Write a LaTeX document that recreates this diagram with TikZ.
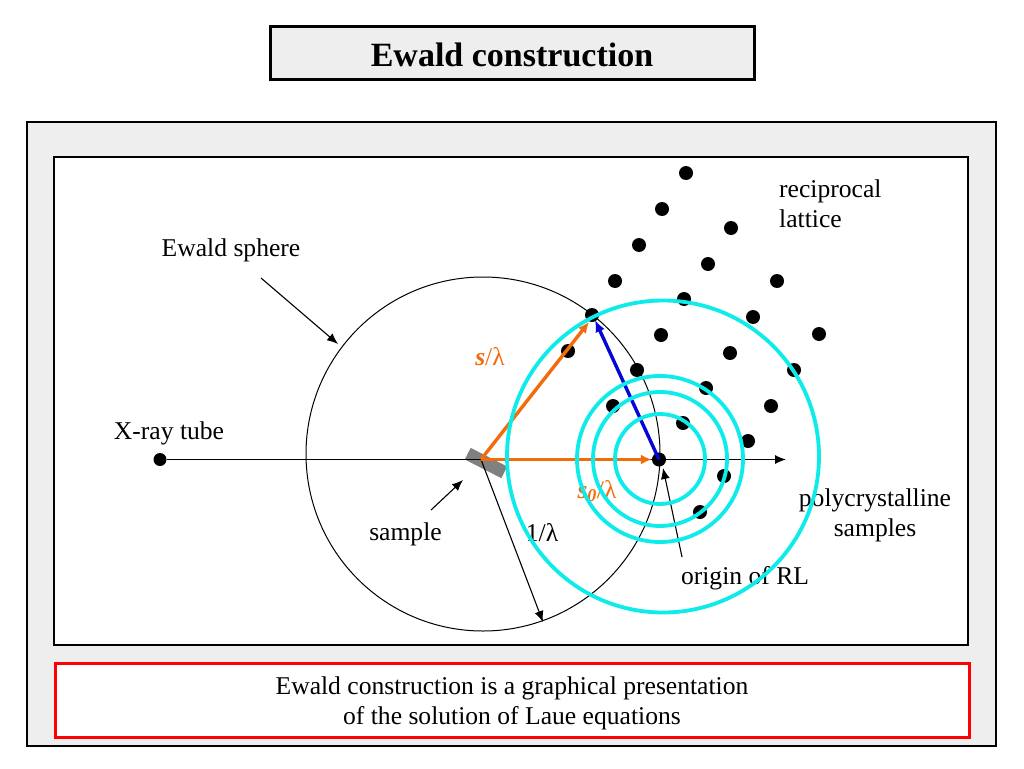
\documentclass[tikz,border=0pt]{standalone}
\usepackage{fontspec}
\usetikzlibrary{arrows.meta}
\setmainfont{Liberation Serif}
\definecolor{panelgray}{HTML}{EEEEEE}
\definecolor{beamorange}{HTML}{F26C0D}
\definecolor{ringcyan}{HTML}{0DEBEB}
\definecolor{vecblue}{HTML}{0505D8}
\tikzset{
  dot/.style={circle,fill=black,inner sep=0pt,minimum size=14pt},
  lbl/.style={font=\fontsize{25.6}{30}\selectfont,align=center,inner sep=0pt},
  veclbl/.style={lbl,text=beamorange},
  ring/.style={ringcyan,line width=3.8pt},
  pointer/.style={-{Latex[length=11pt,width=9pt]},line width=1.1pt},
  beam/.style={-{Latex[length=11pt,width=10pt]},beamorange,line width=3.4pt}
}
\begin{document}
\begin{tikzpicture}[x=1pt,y=-1pt]
    \useasboundingbox (0,0) rectangle (1024,768);

    % Define Coordinates
    \coordinate (O) at (659,459.5);   % origin of RL
    \coordinate (C) at (481,459.5);   % start of the vectors
    \coordinate (M) at (483,454);     % centre of the sphere
    \coordinate (E) at (786,459.5);   % end of the axis
    \coordinate (SphereTail) at (261,278);
    \coordinate (SphereTip) at (338,344);
    \coordinate (SampleTail) at (431,510);
    \coordinate (SampleTip) at (463,480);
    \coordinate (RadiusTip) at (543,622);
    \coordinate (OriginTail) at (682,557);
    \coordinate (OriginTip) at (663,468);
    \coordinate (STip) at (589,322);
    \coordinate (GTip) at (595,320);

    % 1. Draw the Panels
    \draw[line width=3pt,fill=panelgray] (270,27) rectangle (754,79);
    \draw[line width=2.5pt,fill=panelgray] (27,122) rectangle (996,746);
    \draw[line width=1.6pt,fill=white] (54,157) rectangle (968,645);
    \draw[red,line width=3pt,fill=white] (55,663) rectangle (969,737);
    \node[lbl,font=\fontsize{34}{42}\bfseries\selectfont] (title) at (512,54.5) {Ewald construction};
    \node[lbl] (note) at (512,703) {Ewald construction is a graphical presentation\\of the solution of Laue equations};

    % 2. Draw the Sphere and the Sample
    \draw[line width=1pt] (M) circle (177);
    \node[fill=black!50,rotate=-27,minimum width=41pt,minimum height=13pt,inner sep=0pt] (sample) at (486,463) {};

    % 3. Draw the Lattice
    \foreach \x/\y [count=\i] in {686/173,662/209,731/228,639/245,708/264,777/281,615/281,
        684/299,753/317,819/334,592/315,661/335,730/353,794/370,568/351,637/370,706/388,
        771/406,613/406,683/423,748/441,724/476,700/512}
        \node[dot] (rl\i) at (\x,\y) {};

    % 4. Draw the Axis and the Vectors
    \node[dot,minimum size=13pt] (tube) at (160,459.5) {};
    \node[dot] (origin) at (O) {};
    \draw[pointer] (tube) -- (E);
    \draw[pointer] (SphereTail) -- (SphereTip);
    \draw[pointer] (SampleTail) -- (SampleTip);
    \draw[pointer] (C) -- (RadiusTip);
    \draw[pointer] (OriginTail) -- (OriginTip);
    \draw[beam] (C) -- (origin);
    \draw[beam] (C) -- (STip);
    \draw[-{Latex[length=12pt,width=10pt]},vecblue,line width=3.4pt] (O) -- (GTip);

    % 5. Add Labels
    \node[lbl,anchor=west,align=left] (latticelbl) at (779,204) {reciprocal\\lattice};
    \node[lbl] (spherelbl) at (231,250) {Ewald sphere};
    \node[lbl] (tubelbl) at (169,433) {X-ray tube};
    \node[lbl] (samplelbl) at (405.5,534) {sample};
    \node[lbl] (radiuslbl) at (542,533) {1/λ};
    \node[lbl] (originlbl) at (745,578) {origin of RL};
    \node[lbl] (polylbl) at (875,515) {polycrystalline\\samples};
    \node[veclbl] (slbl) at (490,357) {\textbf{\textit{s}}/λ};
    \node[veclbl] (s0lbl) at (597,491) {\textbf{\textit{s}\textsubscript{\textit{0}}}/λ};

    % 6. Draw the Rings
    \foreach \r in {45,67,83}
        \draw[ring] (660,459) circle (\r);
    \draw[ring] (663,456.5) circle (156);

\end{tikzpicture}
\end{document}
